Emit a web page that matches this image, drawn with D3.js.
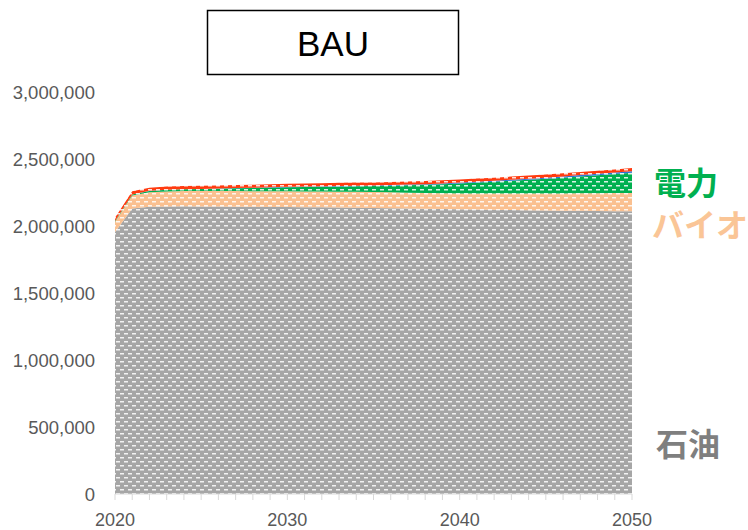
<!DOCTYPE html>
<html><head><meta charset="utf-8">
<script src="https://cdn.jsdelivr.net/npm/d3@7"></script>
<style>html,body{margin:0;padding:0;background:#fff;}svg{display:block;}</style>
</head><body>
<svg id="chart" width="748" height="530"></svg>
<script>
const years = d3.range(2020, 2051);
// values in thousands
const oil  = [1955,2130,2143,2146,2147,2146,2145,2144,2143,2142,2141,2140,2139,2138,2137,2135,2133,2131,2129,2127,2125,2123,2121,2119,2117,2115,2114,2113,2112,2111,2110];
const bio  = [77,97,109,112,114,115,116,117,117,118,118,118,118,118,118,118,118,118,118,118,118,119,121,123,125,127,129,131,133,135,137];
const elec = [5,8,10,12,13,15,17,20,23,26,30,33,36,39,42,45,50,55,60,67,75,82,89,96,103,110,118,126,134,142,150];
const hyd  = [1,1,1,1,1,1,2,2,2,3,3,3,3,4,4,4,5,5,5,6,6,7,7,8,8,9,9,10,10,11,12];
const other= [23,23,23,23,23,23,23,23,23,23,23,23,23,23,23,23,23,23,23,23,23,23,23,23,23,23,23,23,23,23,23];
const seriesKeys = ["oil","bio","elec","hyd","other"];
const seriesColors = {oil:"#A6A6A6", bio:"#FAC090", elec:"#00B050", hyd:"#2E75D6", other:"#FF3B10"};
const yTicks = [0,500000,1000000,1500000,2000000,2500000,3000000];
const xTickLabels = [2020,2030,2040,2050];

const rows = years.map((y,i)=>({year:y, oil:oil[i]*1000, bio:bio[i]*1000, elec:elec[i]*1000, hyd:hyd[i]*1000, other:other[i]*1000}));

const svg = d3.select("#chart");
const x = d3.scaleLinear().domain([2020,2050]).range([115,632]);
const y = d3.scaleLinear().domain([0,3000000]).range([494,92]);

const defs = svg.append("defs");
seriesKeys.forEach(k=>{
  const p = defs.append("pattern").attr("id","pat-"+k).attr("patternUnits","userSpaceOnUse")
    .attr("width",8).attr("height",8);
  p.append("rect").attr("width",8).attr("height",8).attr("fill",seriesColors[k]);
  p.append("rect").attr("x",0).attr("y",1).attr("width",4).attr("height",1.5).attr("fill","#fff").attr("opacity",0.85);
  p.append("rect").attr("x",4).attr("y",5).attr("width",4).attr("height",1.5).attr("fill","#fff").attr("opacity",0.85);
});

const stack = d3.stack().keys(seriesKeys);
const layers = stack(rows);
const area = d3.area().x(d=>x(d.data.year)).y0(d=>y(d[0])).y1(d=>y(d[1]));
svg.append("g").selectAll("path").data(layers).join("path")
  .attr("d",area).attr("fill",d=>"url(#pat-"+d.key+")");

// x axis
const xAxis = svg.append("g").attr("transform","translate(0,494)");
xAxis.append("line").attr("x1",115).attr("x2",632).attr("y1",0).attr("y2",0).attr("stroke","#D9D9D9").attr("stroke-width",1);
xAxis.selectAll("line.tk").data(years).join("line").attr("class","tk")
  .attr("x1",d=>x(d)).attr("x2",d=>x(d)).attr("y1",0).attr("y2",6).attr("stroke","#D9D9D9");
xAxis.selectAll("text").data(xTickLabels).join("text")
  .attr("x",d=>x(d)).attr("y",32).attr("text-anchor","middle")
  .attr("font-family","Liberation Sans, Arial, sans-serif").attr("font-size",18).attr("fill","#595959")
  .text(d=>d);

// y axis labels
svg.append("g").selectAll("text").data(yTicks).join("text")
  .attr("x",95).attr("y",d=>y(d)).attr("dy","0.36em").attr("text-anchor","end")
  .attr("font-family","Liberation Sans, Arial, sans-serif").attr("font-size",18.5).attr("fill","#595959")
  .text(d=>d3.format(",")(d));

// title box
svg.append("rect").attr("x",207.5).attr("y",10.5).attr("width",251).attr("height",64)
  .attr("fill","#fff").attr("stroke","#000").attr("stroke-width",1.5);
svg.append("text").attr("x",333).attr("y",56).attr("text-anchor","middle")
  .attr("font-family","Liberation Sans, Arial, sans-serif").attr("font-size",35).attr("fill","#000").text("BAU");

// series labels
const lab = [
  {t:"電力", x:654, y:195, c:"#00B050"},
  {t:"バイオ", x:652, y:237, c:"#FAC596"},
  {t:"石油", x:656, y:456, c:"#7F7F7F"}
];
svg.append("g").selectAll("text").data(lab).join("text")
  .attr("x",d=>d.x).attr("y",d=>d.y).attr("fill",d=>d.c)
  .attr("font-family","Noto Sans CJK JP, sans-serif").attr("font-weight","bold").attr("font-size",32)
  .text(d=>d.t);
</script>
</body></html>
